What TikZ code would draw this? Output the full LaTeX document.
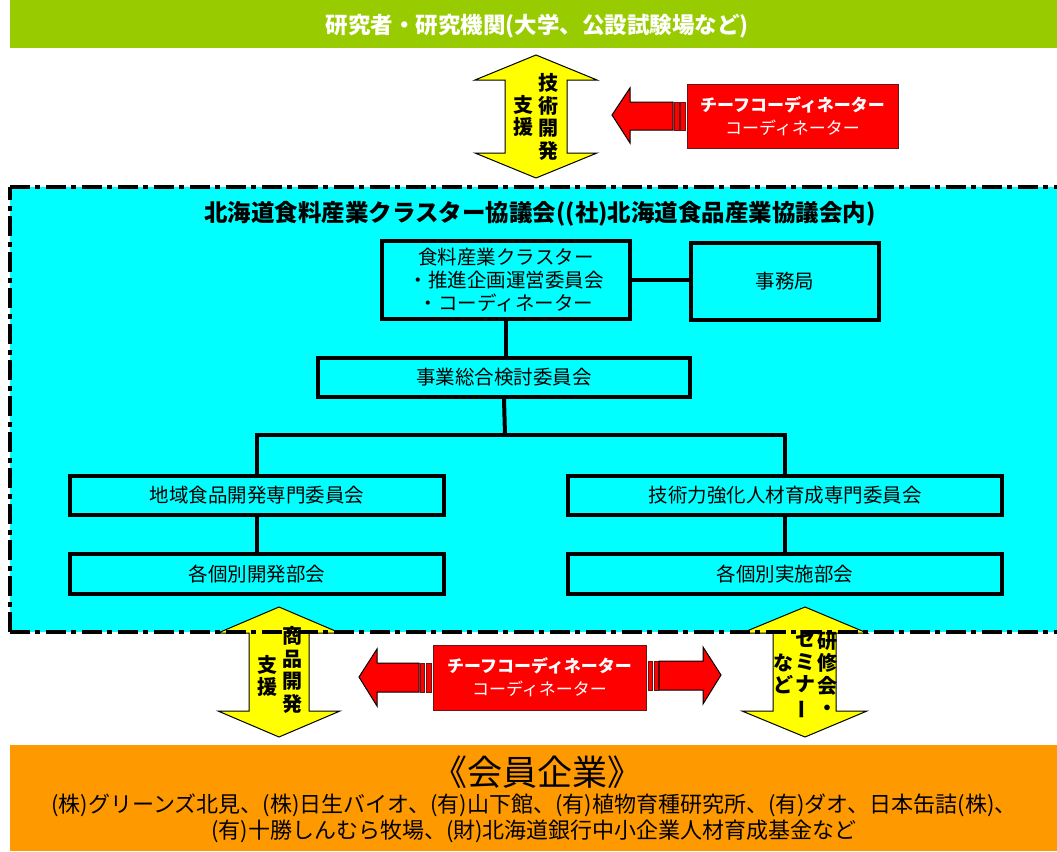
\documentclass[tikz,border=0pt]{standalone}
\usepackage{fontspec}
\setmainfont{Noto Sans CJK JP}
\definecolor{bangreen}{RGB}{153,204,0}
\definecolor{cyanbg}{RGB}{0,255,255}
\definecolor{orangebg}{RGB}{255,153,0}
\definecolor{yel}{RGB}{255,255,0}
\definecolor{redf}{RGB}{255,0,0}
\definecolor{darkred}{RGB}{110,20,20}
\begin{document}
\begin{tikzpicture}[x=1pt,y=-1pt,
  box/.style={draw=black, line width=4pt, inner sep=0pt, align=center,
    font=\fontsize{19.5}{23}\selectfont},
  conn/.style={draw=black, line width=4pt},
  redbox/.style={draw=darkred, line width=0.8pt, fill=redf, text=white, inner sep=0pt,
    align=center, font=\fontsize{17}{23}\selectfont},
  yarrow/.style={draw=black, line width=1pt, fill=yel, line join=miter},
  rarrow/.style={draw=black, line width=1pt, fill=redf},
  stripe/.style={draw=darkred, line width=0.8pt, fill=redf},
  vtext/.style={align=center, inner sep=0pt, font=\bfseries\fontsize{20}{22.5}\selectfont},
  border/.style={draw=black, line width=4pt, dash pattern=on 20pt off 5pt on 5pt off 6pt}
]
\useasboundingbox (0,0) rectangle (1057,851);
% banners
\fill[bangreen] (10,0) rectangle (1057,48);
\node[text=white, font=\bfseries\fontsize{22.5}{26}\selectfont] (top) at (537,26) {研究者・研究機関(大学、公設試験場など)};
\fill[orangebg] (10,745) rectangle (1057,851);
\node[font=\fontsize{35}{38}\selectfont, inner sep=0pt] (mem) at (537,772) {《会員企業》};
\node[font=\fontsize{22}{26}\selectfont, align=center, inner sep=0pt] (memlist) at (534,818)
  {(株)グリーンズ北見、(株)日生バイオ、(有)山下館、(有)植物育種研究所、(有)ダオ、日本缶詰(株)、\\
   (有)十勝しんむら牧場、(財)北海道銀行中小企業人材育成基金など};
% cyan area
\fill[cyanbg] (10,186.5) rectangle (1065,632);
\node[font=\bfseries\fontsize{23.5}{26}\selectfont] (title) at (540,214) {北海道食料産業クラスター協議会((社)北海道食品産業協議会内)};
% boxes
\node[box, minimum width=248, minimum height=78] (b1) at (506,280)
  {食料産業クラスター\\・推進企画運営委員会\\・コーディネーター};
\node[box, minimum width=188, minimum height=77] (off) at (785,281) {事務局};
\node[box, minimum width=372, minimum height=39] (b2) at (504,377.5) {事業総合検討委員会};
\node[box, minimum width=374, minimum height=39] (b3) at (257,495.5) {地域食品開発専門委員会};
\node[box, minimum width=434, minimum height=39] (b4) at (785,495.5) {技術力強化人材育成専門委員会};
\node[box, minimum width=374, minimum height=40] (b5) at (257,574) {各個別開発部会};
\node[box, minimum width=434, minimum height=40] (b6) at (785,574) {各個別実施部会};
\coordinate (j) at (505,435);
\draw[conn] (b1.east) -- (b1.east -| off.west);
\draw[conn] (b1.south) -- (b1.south |- b2.north);
\draw[conn] (b2.south) -- (j);
\draw[conn, line join=miter] (b3.north) -- (b3.north |- j) -- (b4.north |- j) -- (b4.north);
\draw[conn] (b3.south) -- (b5.north);
\draw[conn] (b4.south) -- (b6.north);
% top yellow arrow
\draw[yarrow] (536,55) -- (597,80) -- (567,80) -- (567,153) -- (597,153) -- (536,178)
  -- (475,153) -- (505,153) -- (505,80) -- (475,80) -- cycle;
\node[vtext] (ta1) at (548,117) {技\\術\\開\\発};
\node[vtext] (ta2) at (523,116) {支\\援};
% top red box and arrow
\node[redbox, minimum width=211, minimum height=64] (rc1) at (792.5,116)
  {\bfseries チーフコーディネーター\\コーディネーター};
\draw[stripe] (680,102) rectangle (685,130);
\draw[stripe] (674,102) rectangle (679,130);
\draw[rarrow] (612,115) -- (630,88) -- (630,102) -- (673,102) -- (673,130) -- (630,130) -- (630,143) -- cycle;
% bottom-left yellow arrow
\draw[yarrow] (279,607) -- (340,633) -- (309,633) -- (309,711) -- (340,711) -- (279,737)
  -- (218,711) -- (249,711) -- (249,633) -- (218,633) -- cycle;
\node[vtext] (ba1) at (292,670) {商\\品\\開\\発};
\node[vtext] (ba2) at (267,676) {支\\援};
% bottom-right yellow arrow
\draw[yarrow] (805,607) -- (867,633) -- (836,633) -- (836,711) -- (867,711) -- (805,737)
  -- (742,711) -- (773,711) -- (773,633) -- (742,633) -- cycle;
\node[vtext] (bb1) at (827,674) {研\\修\\会\\・};
\node[vtext] (bb2) at (805,675) {セ\\ミ\\ナ\\\rotatebox[origin=c]{90}{ー}};
\node[vtext] (bb3) at (783,674) {な\\ど};
% bottom red box and arrows
\node[redbox, minimum width=213, minimum height=65] (rc2) at (539.5,677.5)
  {\bfseries チーフコーディネーター\\コーディネーター};
\draw[stripe] (420,663) rectangle (424,692);
\draw[stripe] (426,663) rectangle (431,692);
\draw[rarrow] (359,677) -- (377,649) -- (377,663) -- (419,663) -- (419,692) -- (377,692) -- (377,706) -- cycle;
\draw[stripe] (648,661) rectangle (652,690);
\draw[stripe] (654,661) rectangle (658,690);
\draw[rarrow] (721,675) -- (703,647) -- (703,661) -- (659,661) -- (659,690) -- (703,690) -- (703,704) -- cycle;
% dashed border on top
\draw[border] (10,186.5) -- (1070,186.5);
\draw[border] (10,632) -- (10,186.5);
\draw[border] (10,632) -- (1070,632);
\end{tikzpicture}
\end{document}
